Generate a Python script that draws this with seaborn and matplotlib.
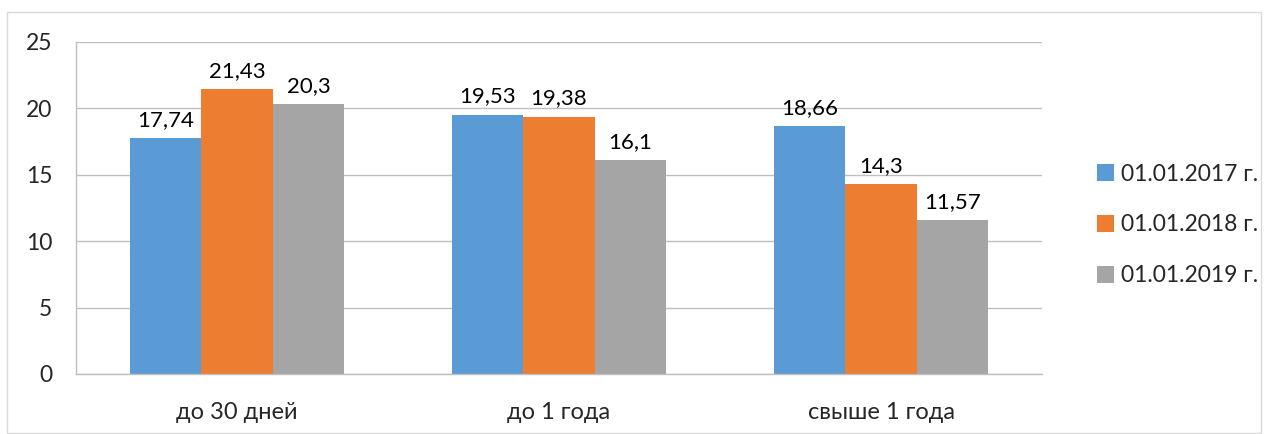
import matplotlib
matplotlib.use('Agg')
from matplotlib import pyplot as plt
from matplotlib.patches import Rectangle
import seaborn as sns
import pandas as pd

categories = ['до 30 дней', 'до 1 года', 'свыше 1 года']
series = ['01.01.2017 г.', '01.01.2018 г.', '01.01.2019 г.']
v2017 = [17.74, 19.53, 18.66]
v2018 = [21.43, 19.38, 14.3]
v2019 = [20.3, 16.1, 11.57]
colors = ['#5B9BD5', '#ED7D31', '#A5A5A5']

rows = []
for s, vals in zip(series, [v2017, v2018, v2019]):
    for c, v in zip(categories, vals):
        rows.append({'cat': c, 'series': s, 'value': v})
df = pd.DataFrame(rows)

sns.set_style('white')
plt.rcParams['font.family'] = ['Lato', 'DejaVu Sans']

fig = plt.figure(figsize=(12.64, 4.34), dpi=100)
ax = fig.add_axes([76 / 1264, 1 - 374 / 434, (1042 - 76) / 1264, (374 - 42) / 434])

sns.barplot(data=df, x='cat', y='value', hue='series', palette=colors,
            width=0.665, saturation=1, linewidth=0, ax=ax, legend=True)

for cont in ax.containers:
    ax.bar_label(cont, labels=[f'{b.get_height():g}'.replace('.', ',') for b in cont],
                 padding=6, fontsize=16, color='#000000')

ax.set_ylim(0, 25)
ax.set_xlim(-0.5, 2.5)
ax.set_yticks([0, 5, 10, 15, 20, 25])
ax.set_xlabel('')
ax.set_ylabel('')
ax.yaxis.grid(True, color='#BFBFBF', linewidth=1)
ax.set_axisbelow(True)
for side in ['top', 'right']:
    ax.spines[side].set_visible(False)
for side in ['left', 'bottom']:
    ax.spines[side].set_color('#BFBFBF')
    ax.spines[side].set_linewidth(1)

ax.tick_params(axis='y', length=8, color='#BFBFBF', pad=9, labelsize=16.5)
ax.tick_params(axis='x', which='major', length=0, pad=20, labelsize=17)
ax.set_xticks([-0.5, 0.5, 1.5, 2.5], minor=True)
ax.tick_params(axis='x', which='minor', length=8, color='#BFBFBF')

handles, labels = ax.get_legend_handles_labels()
ax.get_legend().remove()
fig.legend(handles, labels, loc='center left', bbox_to_anchor=(1076 / 1264, 1 - 225 / 434),
           frameon=False, fontsize=16.5, handlelength=0.75, handleheight=0.75,
           handletextpad=0.3, labelspacing=1.3)

fig.patches.append(Rectangle((7 / 1264, 1 / 434), 1254 / 1264, 421 / 434,
                             transform=fig.transFigure, fill=False,
                             edgecolor='#D9D9D9', linewidth=1))

fig.savefig('out.png', dpi=100)
